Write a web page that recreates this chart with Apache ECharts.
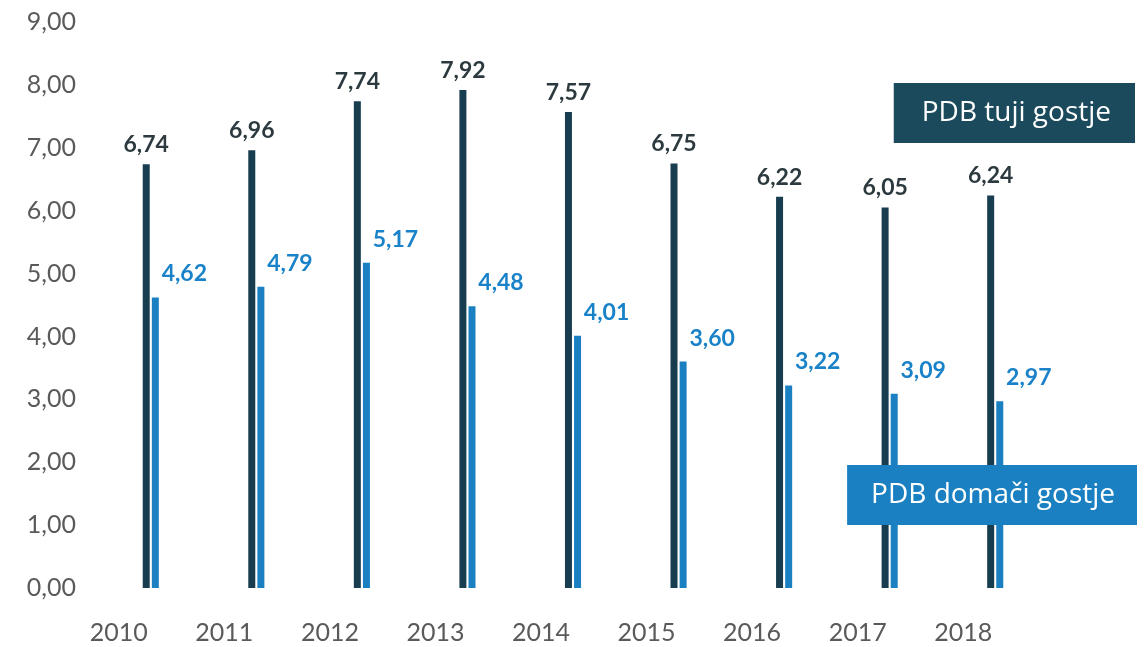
<!DOCTYPE html>
<html>
<head>
<meta charset="utf-8">
<script src="https://cdn.jsdelivr.net/npm/echarts@6/dist/echarts.min.js"></script>
<style>
  html, body { margin: 0; padding: 0; background: #fff; }
  #chart { width: 1144px; height: 647px; }
</style>
</head>
<body>
<div id="chart"></div>
<script>
// leta
const years = ["2010", "2011", "2012", "2013", "2014", "2015", "2016", "2017", "2018"];
// PDB tuji gostje
const foreignGuests = [6.74, 6.96, 7.74, 7.92, 7.57, 6.75, 6.22, 6.05, 6.24];
// PDB domači gostje
const domesticGuests = [4.62, 4.79, 5.17, 4.48, 4.01, 3.60, 3.22, 3.09, 2.97];
const yTicks = { min: 0, max: 9, interval: 1 };

const fmt = (v) => v.toFixed(2).replace(".", ",");
const font = "Lato";

const chart = echarts.init(document.getElementById("chart"));
const option = {
  backgroundColor: "#fff",
  textStyle: { fontFamily: font },
  grid: { left: 98, right: 96, top: 22, bottom: 59 },
  xAxis: {
    type: "category",
    data: years,
    axisLine: { show: false },
    axisTick: { show: false },
    axisLabel: {
      color: "#5a5a5a",
      fontSize: 25,
      margin: 32,
      padding: [0, 64, 0, 0],
    },
  },
  yAxis: {
    type: "value",
    min: yTicks.min,
    max: yTicks.max,
    interval: yTicks.interval,
    axisLine: { show: false },
    axisTick: { show: false },
    splitLine: { show: false },
    axisLabel: {
      color: "#5a5a5a",
      fontSize: 25,
      margin: 22,
      formatter: (v) => fmt(v),
    },
  },
  legend: [
    {
      data: [{ name: "PDB tuji gostje" }],
      right: 4,
      top: 78,
      icon: "none",
      itemWidth: 0,
      itemHeight: 0,
      selectedMode: false,
      textStyle: {
        fontFamily: "Open Sans",
        fontSize: 28,
        lineHeight: 30,
        color: "#fff",
        backgroundColor: "#1b4a5d",
        padding: [15, 24, 15, 28],
      },
    },
    {
      data: [{ name: "PDB domači gostje" }],
      right: 2,
      top: 460,
      icon: "none",
      itemWidth: 0,
      itemHeight: 0,
      selectedMode: false,
      textStyle: {
        fontFamily: "Open Sans",
        fontSize: 28,
        lineHeight: 30,
        color: "#fff",
        backgroundColor: "#1a80c2",
        padding: [15, 22, 15, 24],
      },
    },
  ],
  series: [
    {
      name: "PDB tuji gostje",
      type: "bar",
      data: foreignGuests,
      barWidth: 7,
      barGap: "30%",
      itemStyle: { color: "#173d4f" },
      label: {
        show: true,
        position: "top",
        distance: 8,
        fontSize: 23,
        fontWeight: "bold",
        color: "#2c3a3f",
        formatter: (p) => fmt(p.value),
      },
    },
    {
      name: "PDB domači gostje",
      type: "bar",
      data: domesticGuests,
      barWidth: 7,
      itemStyle: { color: "#1a80c2" },
      label: {
        show: true,
        position: "top",
        distance: 6,
        offset: [29, -6],
        fontSize: 23,
        fontWeight: "bold",
        color: "#1a82c8",
        formatter: (p) => fmt(p.value),
      },
    },
  ],
};
chart.setOption(option);
</script>
</body>
</html>
